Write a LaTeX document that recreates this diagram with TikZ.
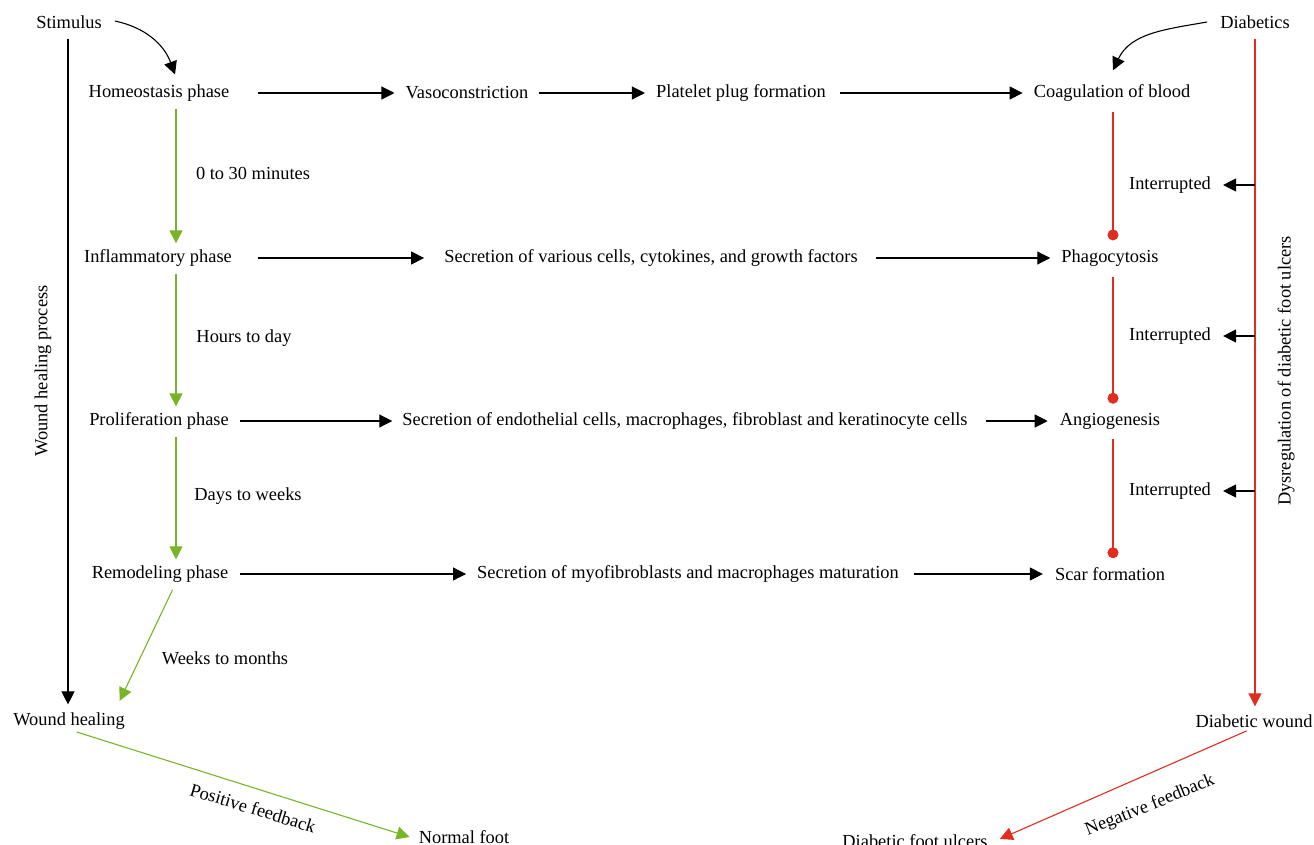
\documentclass[tikz,border=0pt]{standalone}
\usepackage{fontspec}
\setmainfont{Liberation Serif}
\usetikzlibrary{arrows.meta,calc}
\definecolor{gr}{RGB}{120,180,40}
\definecolor{rd}{RGB}{224,45,32}
\begin{document}
\begin{tikzpicture}[x=1pt,y=1pt,
  lbl/.style={inner sep=0pt,font=\fontsize{18.4}{21}\selectfont},
  arr/.style={line width=1.1pt,-{Triangle[length=13pt,width=13pt]}},
  garr/.style={line width=1.1pt,draw=gr,-{Triangle[length=13pt,width=13pt]},gr},
  rarr/.style={line width=1.1pt,draw=rd,-{Triangle[length=13pt,width=13pt]},rd},
  rdot/.style={line width=1.1pt,draw=rd,-{Circle[length=11pt]},rd}]
\useasboundingbox (0,0) rectangle (1314,-845);
% left column
\node[lbl] (stim) at (69,-22) {Stimulus};
\node[lbl] (homeo) at (159,-93) {Homeostasis phase};
\node[lbl] (infl) at (158,-258) {Inflammatory phase};
\node[lbl] (prol) at (159,-421) {Proliferation phase};
\node[lbl] (remod) at (160,-574) {Remodeling phase};
\node[lbl] (wh) at (69,-721) {Wound healing};
\node[lbl] (nf) at (464,-837) {Normal foot};
\node[lbl,rotate=90] (whp) at (43,-371) {Wound healing process};
% middle
\node[lbl] (vaso) at (467,-93) {Vasoconstriction};
\node[lbl] (plate) at (741,-93) {Platelet plug formation};
\node[lbl] (sec1) at (651,-258) {Secretion of various cells, cytokines, and growth factors};
\node[lbl] (sec2) at (685,-421) {Secretion of endothelial cells, macrophages, fibroblast and keratinocyte cells};
\node[lbl] (sec3) at (688,-574) {Secretion of myofibroblasts and macrophages maturation};
% right column
\node[lbl] (diab) at (1255,-22) {Diabetics};
\node[lbl] (coag) at (1112,-93) {Coagulation of blood};
\node[lbl] (phago) at (1110,-258) {Phagocytosis};
\node[lbl] (angio) at (1110,-421) {Angiogenesis};
\node[lbl] (scar) at (1110,-574) {Scar formation};
\node[lbl] (dw) at (1254,-721) {Diabetic wound};
\node[lbl] (dfu) at (915,-841) {Diabetic foot ulcers};
\node[lbl,rotate=90] (dys) at (1286,-371) {Dysregulation of diabetic foot ulcers};
\node[lbl] (int1) at (1170,-185) {Interrupted};
\node[lbl] (int2) at (1170,-336) {Interrupted};
\node[lbl] (int3) at (1170,-491) {Interrupted};
% time labels
\node[lbl] (t1) at (253,-173) {0 to 30 minutes};
\node[lbl] (t2) at (244,-338) {Hours to day};
\node[lbl] (t3) at (248,-496) {Days to weeks};
\node[lbl] (t4) at (225,-658) {Weeks to months};
\node[lbl,rotate=-17] (pf) at (253,-808) {Positive feedback};
\node[lbl,rotate=22] (nfb) at (1150,-806) {Negative feedback};
% guide coordinates
\coordinate (gx) at (176,0);
\coordinate (lx) at (68,0);
\coordinate (rx) at (1255,0);
\coordinate (dx) at (1113,0);
% curved inputs
\draw[arr] ($(stim.east)+(13,1)$) to[out=-12,in=110] ($(homeo.north)+(16,10)$);
\draw[arr] ($(diab.west)+(-13,0)$) to[out=190,in=65] ($(coag.north)+(1,14)$);
% main verticals
\draw[arr] (stim.south -| lx) ++(0,-10) -- ($(wh.north -| lx)+(0,8)$);
\draw[rarr] (diab.south -| rx) ++(0,-10) -- ($(dw.north -| rx)+(0,8)$);
% horizontal rows
\draw[arr,shorten <=29pt,shorten >=11pt] (homeo.east) -- (vaso.west);
\draw[arr,shorten <=10pt,shorten >=11pt] (vaso.east) -- (plate.west);
\draw[arr,shorten <=14pt,shorten >=11pt] (plate.east) -- (coag.west);
\draw[arr,shorten <=26pt,shorten >=20pt] (infl.east) -- (sec1.west);
\draw[arr,shorten <=18pt,shorten >=11pt] (sec1.east) -- (phago.west);
\draw[arr,shorten <=11pt,shorten >=10pt] (prol.east) -- (sec2.west);
\draw[arr,shorten <=18pt,shorten >=12pt] (sec2.east) -- (angio.west);
\draw[arr,shorten <=12pt,shorten >=11pt] (remod.east) -- (sec3.west);
\draw[arr,shorten <=15pt,shorten >=12pt] (sec3.east) -- (scar.west);
% green phase arrows
\draw[garr,shorten <=7pt,shorten >=6pt] (homeo.south -| gx) -- (infl.north -| gx);
\draw[garr,shorten <=7pt,shorten >=6pt] (infl.south -| gx) -- (prol.north -| gx);
\draw[garr,shorten <=7pt,shorten >=6pt] (prol.south -| gx) -- (remod.north -| gx);
\draw[garr,shorten <=8pt,shorten >=4pt] (remod.south -| gx) -- ($(wh.north)+(49,8)$);
\draw[garr,shorten <=8pt] (wh.south) -- ($(nf.west)+(-9,0)$);
\draw[rarr,shorten <=8pt] (dw.south) -- ($(dfu.east)+(12,2)$);
% red interruption lines
\draw[rdot,shorten <=10pt,shorten >=9pt] (coag.south -| dx) -- (phago.north -| dx);
\draw[rdot,shorten <=10pt,shorten >=9pt] (phago.south -| dx) -- (angio.north -| dx);
\draw[rdot,shorten <=10pt,shorten >=9pt] (angio.south -| dx) -- (scar.north -| dx);
% interrupted arrows
\draw[arr,shorten >=12pt] (int1.east -| rx) -- (int1.east);
\draw[arr,shorten >=12pt] (int2.east -| rx) -- (int2.east);
\draw[arr,shorten >=12pt] (int3.east -| rx) -- (int3.east);
\end{tikzpicture}
\end{document}
